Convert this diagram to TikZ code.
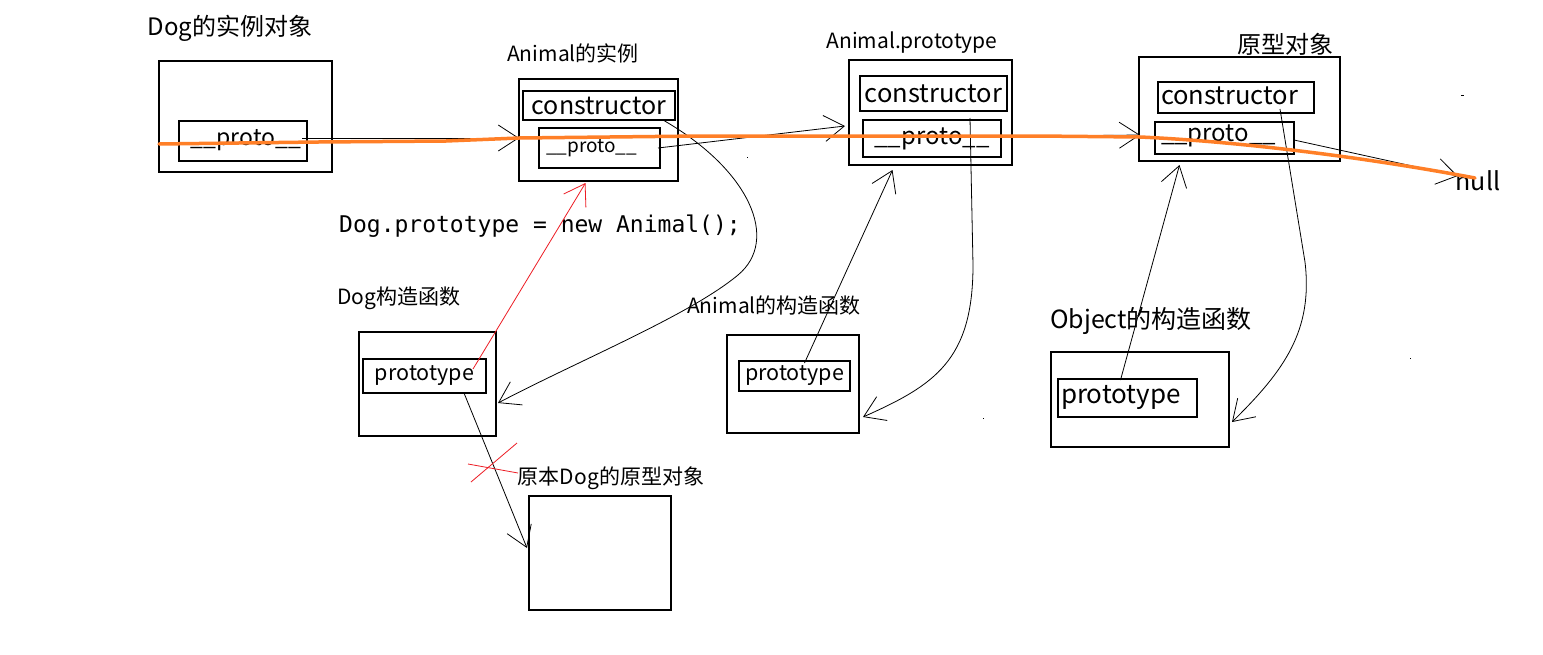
\documentclass[tikz,border=0pt]{standalone}
\usepackage{fontspec}
\setmainfont{Noto Sans CJK SC}
\newfontfamily\codefont{DejaVu Sans Mono}
\usetikzlibrary{arrows.meta,calc}
\newcommand\fsz[1]{\fontsize{#1}{#1}\selectfont}
\definecolor{orng}{RGB}{255,127,39}
\definecolor{redp}{RGB}{237,28,36}
\begin{document}
\begin{tikzpicture}[x=1pt,y=-1pt,
  bx/.style={draw, line width=1.1pt, inner sep=0pt, outer sep=0pt},
  lbl/.style={inner sep=0pt, outer sep=0pt},
  arr/.style={line width=0.8pt, -{Straight Barb[length=20pt,width=26pt]}},
  redarr/.style={redp, line width=0.8pt, -{Straight Barb[length=20pt,width=26pt]}},
  orangeline/.style={orng, line width=3.5pt, line cap=round, line join=round}]
\useasboundingbox[fill=white] (0,0) rectangle (1543,654);

% titles
\node[lbl,font=\fsz{24}] (t1) at (230,28) {Dog的实例对象};
\node[lbl,font=\fsz{21}] (t2) at (573,53) {Animal的实例};
\node[lbl,font=\fsz{21}] (t3) at (912,43) {Animal.prototype};
\node[lbl,font=\fsz{24}] (t4) at (1285,44) {原型对象};
\node[lbl,font=\fsz{25}] (null) at (1478,181) {null};
\node[lbl,font=\codefont\fsz{23}] (code) at (540,226) {Dog.prototype = new Animal();};
\node[lbl,font=\fsz{21}] (t5) at (399,298) {Dog构造函数};
\node[lbl,font=\fsz{21}] (t6) at (774,306) {Animal的构造函数};
\node[lbl,font=\fsz{25}] (t7) at (1151,321) {Object的构造函数};
\node[lbl,font=\fsz{21}] (t8) at (611,478) {原本Dog的原型对象};

% boxes
\node[bx,minimum width=173,minimum height=111] (dogobj) at (245.5,116.5) {};
\node[bx,minimum width=128,minimum height=40] (dogproto) at (243,141) {};
\node[lbl,font=\fsz{23}] (dogprotot) at ($(dogproto.center)+(3,-1)$) {\_\_proto\_\_};

\node[bx,minimum width=159,minimum height=102] (aniinst) at (598.5,130) {};
\node[bx,minimum width=152,minimum height=29,font=\fsz{25}] (aicons) at (599,105.5) {constructor};
\node[bx,minimum width=121,minimum height=40] (aiproto) at (599.5,148) {};
\node[lbl,font=\fsz{19}] (aiprotot) at ($(aiproto.center)+(-8,0)$) {\_\_proto\_\_};

\node[bx,minimum width=163,minimum height=105] (aproto) at (930.5,112.5) {};
\node[bx,minimum width=147,minimum height=35,font=\fsz{25.5}] (apcons) at (933.5,93.5) {constructor};
\node[bx,minimum width=138,minimum height=37,font=\fsz{24}] (approto) at (932,138.5) {\_\_proto\_\_};

\node[bx,minimum width=201,minimum height=104] (yx) at (1239.5,109) {};
\node[bx,minimum width=156,minimum height=31] (yxcons) at (1236,97.5) {};
\node[lbl,font=\fsz{25.5},anchor=west] (yxconst) at ($(yxcons.west)+(3,-2)$) {constructor};
\node[bx,minimum width=139,minimum height=32] (yxproto) at (1224.5,138) {};
\node[lbl,font=\fsz{24},anchor=west] (yxprotot) at ($(yxproto.west)+(6,-2)$) {\_\_proto\_\_};

\node[bx,minimum width=137,minimum height=104] (dogctor) at (427.5,384) {};
\node[bx,minimum width=123,minimum height=34,font=\fsz{21.5}] (dcproto) at (424.5,376) {prototype};

\node[bx,minimum width=132,minimum height=98] (actor) at (793,384) {};
\node[bx,minimum width=111,minimum height=30,font=\fsz{21.5}] (acproto) at (794.5,376) {prototype};

\node[bx,minimum width=178,minimum height=95] (objctor) at (1140,399.5) {};
\node[bx,minimum width=139,minimum height=38] (ocproto) at (1127.5,398) {};
\node[lbl,font=\fsz{26},anchor=west] (ocprotot) at ($(ocproto.west)+(3,-1)$) {prototype};

\node[bx,minimum width=142,minimum height=114] (origbox) at (600,553) {};

% connectors
\draw[arr] ($(dogproto.east)+(-5,-3)$) -- ($(aniinst.west)+(0,8)$);
\draw[arr] ($(aiproto.east)+(-2,0)$) -- ($(aproto.west)+(-4,13.5)$);
\draw[arr] ($(approto.east)+(0,-2)$) -- ($(yx.west)+(1,26)$);
\draw[arr] ($(yxproto.east)+(0,2)$) -- ($(null.west)+(2,-5)$);
\draw[redarr] ($(dcproto.east)+(-13,-7)$) -- ($(aniinst.south)+(-13,2)$);
\draw[arr] ($(acproto.north)+(10,2)$) -- ($(aproto.south)+(-38,5)$);
\draw[arr] ($(ocproto.north)+(-7,1)$) -- ($(yx.south)+(-60,4)$);
\draw[arr] ($(aicons.south east)+(-12,0)$) .. controls (750,170) and (780,240) .. (738,275)
   .. controls (690,315) and (580,360) .. ($(dogctor.east)+(2,19)$);
\draw[arr] ($(apcons.south)+(36.5,7)$) -- (973,265) .. controls (973,360) and (935,385) .. ($(actor.east)+(4,33)$);
\draw[arr] ($(yxcons.south)+(44,-4)$) -- (1305,262) .. controls (1313,330) and (1285,370) .. ($(objctor.east)+(3,22.5)$);
\draw[arr] ($(dcproto.south)+(39.5,0)$) -- ($(origbox.west)+(-2,-5)$);

% red cross
\draw[redp, line width=0.8pt] (468,464) -- (518,473);
\draw[redp, line width=0.8pt] (471,482) -- (517,443);

% stray dots
\fill (746.5,156.5) rectangle (748,158);
\fill (1461,94.5) rectangle (1464,96);
\fill (1409.5,357.5) rectangle (1411,359);
\fill (982.5,417.5) rectangle (984,419);

% orange path
\draw[orangeline] (159,144) -- (318,142) -- (446,141) -- (519,138) -- (700,136) -- (1036,136) -- (1140,137)
  .. controls (1250,142) and (1380,160) .. (1475,178);
\end{tikzpicture}
\end{document}
